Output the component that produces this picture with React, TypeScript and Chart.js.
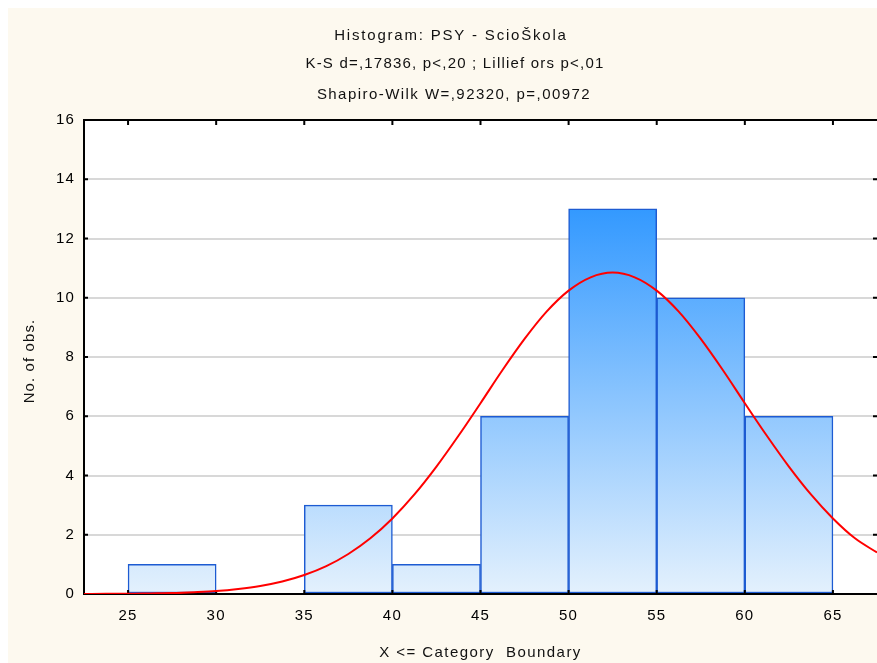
import React, { useEffect, useRef } from "react";
import { Chart, registerables } from "chart.js";

Chart.register(...registerables);

// Header text and axis titles
const titleLines = [
  "Histogram: PSY - ScioŠkola",
  "K-S d=,17836, p<,20 ; Lillief ors p<,01",
  "Shapiro-Wilk W=,92320, p=,00972",
];
const xAxisTitle = "X <= Category  Boundary";
const yAxisTitle = "No. of obs.";

// Histogram bins (upper boundaries 30..65, width 5) and counts
const binCenters = [27.5, 32.5, 37.5, 42.5, 47.5, 52.5, 57.5, 62.5];
const binCounts = [1, null, 3, 1, 6, 13, 10, 6];

// Tick values
const xTicks = [25, 30, 35, 40, 45, 50, 55, 60, 65];
const yTicks = [0, 2, 4, 6, 8, 10, 12, 14, 16];

// Expected normal curve (counts per bin)
const curveX = [
  22.5, 23.75, 25, 26.25, 27.5, 28.75, 30, 31.25, 32.5, 33.75, 35, 36.25, 37.5,
  38.75, 40, 41.25, 42.5, 43.75, 45, 46.25, 47.5, 48.75, 50, 51.25, 52.5, 53.75,
  55, 56.25, 57.5, 58.75, 60, 61.25, 62.5, 63.75, 65, 66.25, 67.5,
];
const curveY = [
  0.0, 0.01, 0.01, 0.02, 0.03, 0.06, 0.1, 0.17, 0.27, 0.42, 0.64, 0.94, 1.35,
  1.88, 2.55, 3.36, 4.3, 5.34, 6.44, 7.56, 8.61, 9.53, 10.24, 10.69, 10.85,
  10.69, 10.24, 9.53, 8.61, 7.56, 6.44, 5.34, 4.3, 3.36, 2.55, 1.88, 1.4,
];

const FONT_FAMILY = '"Liberation Sans", Arial, sans-serif';
const TICK_SPACING = "1.2px";

const chromePlugin = {
  id: "statChrome",
  beforeDraw(chart: any) {
    const { ctx, chartArea: a } = chart;
    ctx.save();
    ctx.fillStyle = "#FDF9EF";
    ctx.fillRect(0, 0, chart.width, chart.height);
    ctx.fillStyle = "#FFFFFF";
    ctx.fillRect(a.left, a.top, a.right - a.left, a.bottom - a.top);
    ctx.restore();
    (ctx as any).letterSpacing = TICK_SPACING;
  },
  afterDatasetDraw(chart: any, args: any) {
    if (args.index !== 0) return;
    const { ctx, chartArea: a, scales } = chart;
    ctx.save();
    ctx.strokeStyle = "#000000";
    ctx.lineWidth = 2;
    ctx.beginPath();
    ctx.moveTo(a.left, a.top);
    ctx.lineTo(a.right, a.top);
    ctx.moveTo(a.left, a.bottom);
    ctx.lineTo(a.right, a.bottom);
    ctx.moveTo(a.left, a.top - 1);
    ctx.lineTo(a.left, a.bottom + 1);
    ctx.stroke();
    ctx.beginPath();
    for (const v of yTicks) {
      const y = scales.y.getPixelForValue(v);
      ctx.moveTo(a.left, y);
      ctx.lineTo(a.left + 4, y);
      ctx.moveTo(a.right - 4, y);
      ctx.lineTo(a.right, y);
    }
    for (const v of xTicks) {
      const x = scales.x.getPixelForValue(v);
      ctx.moveTo(x, a.top);
      ctx.lineTo(x, a.top + 5);
      ctx.moveTo(x, a.bottom);
      ctx.lineTo(x, a.bottom - 4);
    }
    ctx.stroke();
    ctx.restore();
  },
  afterDraw(chart: any) {
    const { ctx, chartArea: a } = chart;
    ctx.save();
    ctx.fillStyle = "#111111";
    ctx.font = `15px ${FONT_FAMILY}`;
    ctx.textAlign = "center";
    ctx.textBaseline = "middle";
    const titleX = [443, 447, 446];
    const titleY = [27.5, 56, 87];
    const titleSpacing = ["1.8px", "1.2px", "1.45px"];
    titleLines.forEach((t, i) => {
      (ctx as any).letterSpacing = titleSpacing[i];
      ctx.fillText(t, titleX[i], titleY[i]);
    });
    (ctx as any).letterSpacing = "1.45px";
    ctx.fillText(xAxisTitle, (a.left + a.right) / 2, 645);
    (ctx as any).letterSpacing = "1.1px";
    ctx.translate(22, (a.top + a.bottom) / 2 + 4);
    ctx.rotate(-Math.PI / 2);
    ctx.fillText(yAxisTitle, 0, 0);
    ctx.restore();
  },
};

export default function App() {
  const canvasRef = useRef<HTMLCanvasElement | null>(null);

  useEffect(() => {
    const body = document.body;
    const prevMargin = body.style.margin;
    body.style.margin = "8px 0 0 8px";
    const canvas = canvasRef.current;
    if (!canvas) return;

    const topCount = Math.max(...(binCounts.filter((v) => v !== null) as number[]));

    const chart = new Chart(canvas, {
      type: "bar",
      data: {
        datasets: [
          {
            type: "bar",
            order: 1,
            data: binCenters.map((x, i) => ({ x, y: binCounts[i] })) as any,
            backgroundColor: (c: any) => {
              const ch = c.chart;
              if (!ch.chartArea) return "#9CCBFD";
              const ys = ch.scales.y;
              const g = ch.ctx.createLinearGradient(
                0,
                ys.getPixelForValue(topCount),
                0,
                ys.getPixelForValue(0)
              );
              g.addColorStop(0, "rgb(51,153,255)");
              g.addColorStop(1, "rgb(228,241,253)");
              return g;
            },
            borderColor: "#1D5BD2",
            borderWidth: 1.5,
            borderSkipped: false,
            barPercentage: 1,
            categoryPercentage: 1,
            grouped: false,
          },
          {
            type: "line",
            order: 0,
            data: curveX.map((x, i) => ({ x, y: curveY[i] })) as any,
            borderColor: "#FF0000",
            borderWidth: 2,
            pointRadius: 0,
            cubicInterpolationMode: "monotone",
            fill: false,
          },
        ],
      },
      options: {
        animation: false,
        responsive: false,
        devicePixelRatio: 1,
        layout: { padding: { top: 112, left: 0, right: 0, bottom: 0 } },
        plugins: {
          legend: { display: false },
          title: { display: false },
          tooltip: { enabled: false },
        },
        scales: {
          x: {
            type: "linear",
            min: 22.5,
            max: 67.5,
            offset: false,
            grid: { display: false, offset: false },
            border: { display: false },
            afterBuildTicks: (axis: any) => {
              axis.ticks = xTicks.map((value) => ({ value }));
            },
            afterFit: (axis: any) => {
              axis.height = 69;
            },
            ticks: {
              color: "#000000",
              padding: 5,
              maxRotation: 0,
              autoSkip: false,
              font: { family: FONT_FAMILY, size: 15 },
            },
          },
          y: {
            type: "linear",
            min: 0,
            max: 16,
            grid: { color: "#D8D8D8", lineWidth: 2, drawTicks: false },
            border: { display: false },
            afterBuildTicks: (axis: any) => {
              axis.ticks = yTicks.map((value) => ({ value }));
            },
            afterFit: (axis: any) => {
              axis.width = 76;
            },
            ticks: {
              color: "#000000",
              padding: 9,
              font: { family: FONT_FAMILY, size: 15 },
            },
          },
        },
      },
      plugins: [chromePlugin],
    } as any);

    return () => {
      chart.destroy();
      body.style.margin = prevMargin;
    };
  }, []);

  return (
    <div style={{ width: 869, height: 655 }}>
      <canvas ref={canvasRef} width={869} height={655} style={{ display: "block" }} />
    </div>
  );
}
